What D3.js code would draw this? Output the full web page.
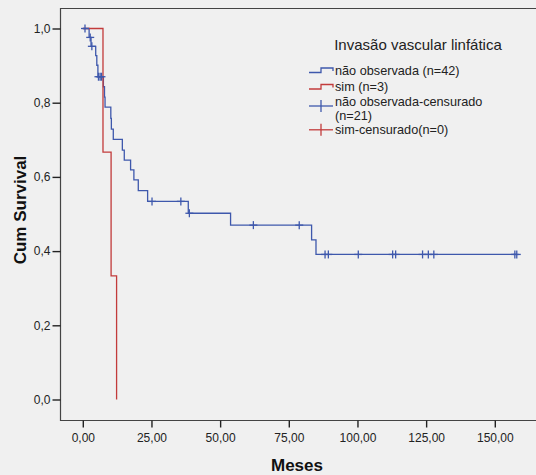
<!DOCTYPE html>
<html><head><meta charset="utf-8">
<script src="https://cdn.jsdelivr.net/npm/d3@7"></script>
<style>
html,body{margin:0;padding:0;background:#f0f0f0;}
svg{display:block;font-family:"Liberation Sans",Arial,sans-serif;}
</style></head>
<body>
<svg id="c" width="536" height="475"></svg>
<script>
// ---- data ----
const xTicks = [0, 25, 50, 75, 100, 125, 150];
const yTicks = [0, 0.2, 0.4, 0.6, 0.8, 1.0];
const legendTitle = "Invasão vascular linfática";
const seriesNames = ["não observada (n=42)", "sim (n=3)"];
const censorNames = [["não observada-censurado", "(n=21)"], ["sim-censurado(n=0)"]];

// group "não observada": step times and survival after each step
const blueTimes = [0, 2.3, 3.0, 4.7, 5.1, 5.5, 7.5, 7.9, 8.1, 10.2, 10.4, 11.1, 14.4, 15.1, 17.4, 18.6, 20.2, 23.6, 38.4, 53.8, 83.3, 84.9];
const blueSurv  = [1.0, 0.976, 0.952, 0.927, 0.901, 0.870, 0.843, 0.815, 0.788, 0.758, 0.729, 0.701, 0.672, 0.645, 0.619, 0.592, 0.563, 0.534, 0.502, 0.470, 0.430, 0.391];
const blueEnd = 158.0;
const blueCensored = [0.8, 2.7, 3.3, 5.7, 6.3, 6.8, 25.2, 35.7, 38.8, 62.1, 78.8, 88.2, 89.4, 100.3, 112.8, 113.9, 123.7, 125.8, 127.8, 157.3, 158.0];

// group "sim"
const redTimes = [0, 7.35, 10.3, 12.3];
const redSurv  = [1.0, 0.667, 0.333, 0.0];
const redEnd = 12.3;

const blue = "#3e58ac", red = "#c23b3b";

const svg = d3.select("#c");
const x = d3.scaleLinear().domain([0, 150]).range([82.8, 494.8]);
const y = d3.scaleLinear().domain([0, 1]).range([399.5, 28.5]);

// frame
svg.append("path").attr("d", "M537,8.5H60.5V420.5H537")
  .attr("fill", "none").attr("stroke", "#444").attr("stroke-width", 1.2);

const fmt = (d, n) => d3.format("." + n + "f")(d).replace(".", ",");

const gx = svg.append("g").attr("transform", "translate(0,420.5)")
  .call(d3.axisBottom(x).tickValues(xTicks).tickSize(7).tickPadding(6).tickSizeOuter(0).tickFormat(d => fmt(d, 2)));
gx.select(".domain").remove();
const gy = svg.append("g").attr("transform", "translate(60.5,0)")
  .call(d3.axisLeft(y).tickValues(yTicks).tickSize(8).tickPadding(2).tickSizeOuter(0).tickFormat(d => fmt(d, 1)));
gy.select(".domain").remove();
svg.selectAll(".tick text").attr("font-size", 12).attr("fill", "#222").attr("font-family", '"Liberation Sans",Arial,sans-serif');
svg.selectAll(".tick line").attr("stroke", "#222").attr("stroke-width", 1.4);

// axis titles
svg.append("text").attr("x", 297).attr("y", 471).attr("text-anchor", "middle")
  .attr("font-size", 17).attr("font-weight", "bold").attr("fill", "#111").text("Meses");
svg.append("text").attr("transform", "translate(26,210) rotate(-90)").attr("text-anchor", "middle")
  .attr("font-size", 17).attr("font-weight", "bold").attr("fill", "#111").text("Cum Survival");

function stepPts(times, surv, end) {
  const pts = [];
  times.forEach((t, i) => {
    if (i > 0) pts.push([t, surv[i - 1]]);
    pts.push([t, surv[i]]);
  });
  pts.push([end, surv[surv.length - 1]]);
  return pts;
}
function survAt(times, surv, t) {
  let s = surv[0];
  for (let i = 0; i < times.length; i++) if (times[i] <= t) s = surv[i];
  return s;
}
const line = d3.line().x(d => x(d[0])).y(d => y(d[1]));

svg.append("path").datum(stepPts(blueTimes, blueSurv, blueEnd)).attr("d", line)
  .attr("fill", "none").attr("stroke", blue).attr("stroke-width", 1.3);
svg.append("path").datum(stepPts(redTimes, redSurv, redEnd)).attr("d", line)
  .attr("fill", "none").attr("stroke", red).attr("stroke-width", 1.3);

// censor marks
const cg = svg.append("g").attr("stroke", blue).attr("stroke-width", 1.3);
blueCensored.forEach(t => {
  const cx = x(t), cy = y(survAt(blueTimes, blueSurv, t));
  cg.append("line").attr("x1", cx - 4).attr("x2", cx + 4).attr("y1", cy).attr("y2", cy);
  cg.append("line").attr("x1", cx).attr("x2", cx).attr("y1", cy - 4).attr("y2", cy + 4);
});

// legend
const fs = 12.7;
const lg = svg.append("g");
lg.append("text").attr("x", 418).attr("y", 50).attr("text-anchor", "middle")
  .attr("font-size", 15).attr("fill", "#222").text(legendTitle);
const rows = [70, 86.5];
[blue, red].forEach((c, i) => {
  const cy = rows[i];
  lg.append("path").attr("d", `M309,${cy + 2.5}H321V${cy - 2}H333V${cy + 1}`)
    .attr("fill", "none").attr("stroke", c).attr("stroke-width", 1.3);
  lg.append("text").attr("x", 335).attr("y", cy + 4.5).attr("font-size", fs).attr("fill", "#222").text(seriesNames[i]);
});
// censor legend entries
const crow = [[101.2, 115.6, 106], [129.8, null, 129.8]];
[blue, red].forEach((c, i) => {
  const my = crow[i][2];
  lg.append("line").attr("x1", 309).attr("x2", 333).attr("y1", my).attr("y2", my).attr("stroke", c).attr("stroke-width", 1.3);
  lg.append("line").attr("x1", 321).attr("x2", 321).attr("y1", my - 6).attr("y2", my + 6).attr("stroke", c).attr("stroke-width", 1.3);
  censorNames[i].forEach((s, j) => {
    lg.append("text").attr("x", 335).attr("y", crow[i][j] + 4.5).attr("font-size", fs).attr("fill", "#222").text(s);
  });
});
</script>
</body></html>
